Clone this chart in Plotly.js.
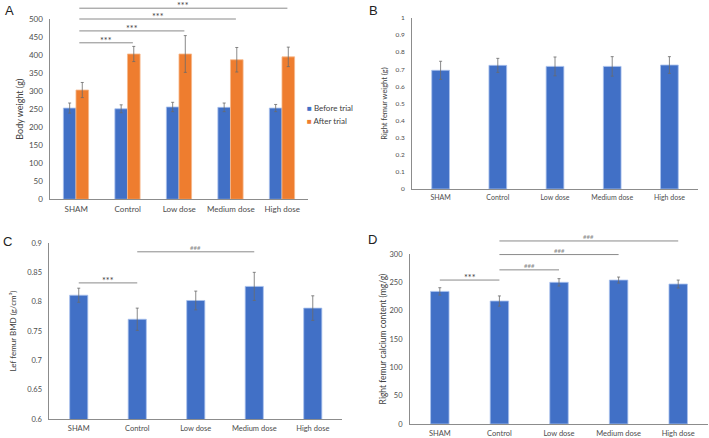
<!DOCTYPE html>
<html>
<head>
<meta charset="utf-8">
<script src="https://cdn.plot.ly/plotly-3.0.1.min.js"></script>
<style>
  html, body { margin: 0; padding: 0; background: #fff; }
  #chart { width: 709px; height: 438px; }
</style>
</head>
<body>
<div id="chart"></div>
<script>
// Treatment groups shared by all four panels
const groups = ['SHAM', 'Control', 'Low dose', 'Medium dose', 'High dose'];

// A: body weight (g)
const seriesNames = ['Before trial', 'After trial'];
const bodyBefore = [253, 251, 256, 255, 253];
const bodyBeforeErr = [14, 11, 13, 12, 10];
const bodyAfter = [303, 403, 403, 387, 395];
const bodyAfterErr = [21, 21, 51, 34, 27];

// B: right femur weight (g)
const femurWeight = [0.694, 0.723, 0.717, 0.717, 0.725];
const femurWeightErr = [0.053, 0.041, 0.055, 0.057, 0.049];

// C: left femur BMD (g/cm3)
const femurBMD = [0.811, 0.770, 0.802, 0.826, 0.789];
const femurBMDErr = [0.012, 0.019, 0.016, 0.024, 0.021];

// D: right femur calcium content (mg/g)
const calcium = [234, 217, 250, 254, 247];
const calciumErr = [6.5, 9, 6.5, 5.3, 7];

// Significance brackets: [from group, to group, level, mark]
const bracketsA = [[0, 1, 434, '***'], [0, 2, 467, '***'], [0, 3, 500, '***'], [0, 4, 530, '***']];
const bracketsC = [[0, 1, 0.832, '***'], [1, 3, 0.885, '###']];
const bracketsD = [[0, 1, 254, '***'], [1, 2, 272, '###'], [1, 3, 299, '###'], [1, 4, 323, '###']];

// Axis ranges and tick steps
const rangeA = [0, 500], dtickA = 50;
const rangeB = [0, 1], dtickB = 0.1;
const rangeC = [0.6, 0.9], dtickC = 0.05;
const rangeD = [0, 300], dtickD = 50;

const BLUE = '#4170c6';
const ORANGE = '#ee7d2f';
const TICK = '#4d4d4d';
const LINE = '#8c8c8c';
const FONT = 'Lato, "Open Sans", sans-serif';

function errBars(arr) {
  return { type: 'data', array: arr, visible: true, color: '#6b6b6b', thickness: 0.8, width: 1.5 };
}
const blueMarker = { color: BLUE, line: { color: '#a9c2ee', width: 0.8 } };

const traces = [
  { type: 'bar', name: seriesNames[0], x: groups, y: bodyBefore, error_y: errBars(bodyBeforeErr),
    xaxis: 'x', yaxis: 'y', width: 0.245, offset: -0.25, marker: blueMarker },
  { type: 'bar', name: seriesNames[1], x: groups, y: bodyAfter, error_y: errBars(bodyAfterErr),
    xaxis: 'x', yaxis: 'y', width: 0.245, offset: -0.005,
    marker: { color: ORANGE, line: { color: '#f6b98c', width: 0.8 } } },
  { type: 'bar', x: groups, y: femurWeight, error_y: errBars(femurWeightErr),
    xaxis: 'x2', yaxis: 'y2', width: 0.31, offset: -0.155, marker: blueMarker },
  { type: 'bar', x: groups, y: femurBMD, error_y: errBars(femurBMDErr),
    xaxis: 'x3', yaxis: 'y3', width: 0.31, offset: -0.155, marker: blueMarker },
  { type: 'bar', x: groups, y: calcium, error_y: errBars(calciumErr),
    xaxis: 'x4', yaxis: 'y4', width: 0.31, offset: -0.155, marker: blueMarker }
];

function xAxis(domain, anchor, size) {
  return {
    domain: domain, anchor: anchor, type: 'category', categoryorder: 'array', categoryarray: groups,
    range: [-0.5, groups.length - 0.5],
    showline: true, linecolor: LINE, linewidth: 1, ticks: '', showgrid: false, zeroline: false,
    tickfont: { family: FONT, size: size, color: TICK }, ticklabelstandoff: 2
  };
}
function yAxis(domain, anchor, range, dtick, size, title, titleSize, standoff) {
  return {
    domain: domain, anchor: anchor, range: range, dtick: dtick, tick0: range[0],
    showline: true, linecolor: LINE, linewidth: 1, ticks: '', showgrid: false, zeroline: false,
    tickfont: { family: FONT, size: size, color: TICK }, ticklabelstandoff: 5,
    title: { text: title, font: { family: FONT, size: titleSize, color: '#404040' }, standoff: standoff }
  };
}

const layout = {
  width: 709, height: 438,
  margin: { l: 0, r: 0, t: 0, b: 0 },
  paper_bgcolor: '#ffffff', plot_bgcolor: '#ffffff',
  barmode: 'overlay',
  showlegend: false,
  font: { family: FONT, color: TICK },
  xaxis: xAxis([0.0712, 0.4344], 'y', 8),
  yaxis: yAxis([0.5450, 0.9566], 'x', rangeA, dtickA, 8, 'Body weight (g)', 9, 3),
  xaxis2: xAxis([0.5811, 0.9845], 'y2', 7),
  yaxis2: yAxis([0.5685, 0.9589], 'x2', rangeB, dtickB, 6.5, 'Right femur weight (g)', 7.5, 6),
  xaxis3: xAxis([0.0698, 0.4824], 'y3', 7.5),
  yaxis3: yAxis([0.0434, 0.4452], 'x3', rangeC, dtickC, 7.5, 'Lef femur BMD (g/cm³)', 8, 9),
  xaxis4: xAxis([0.5783, 0.9986], 'y4', 7.5),
  yaxis4: yAxis([0.0320, 0.4201], 'x4', rangeD, dtickD, 7.5, 'Right femur calcium content (mg/g)', 8.5, 1),
  shapes: [],
  annotations: []
};

// Brackets are placed in the y-domain frame so they may rise above the axis top
function addBrackets(list, xa, ya, range, startShift, endShift, starSize, hashSize) {
  list.forEach(([from, to, level, mark]) => {
    const frac = (level - range[0]) / (range[1] - range[0]);
    const x0 = from + startShift, x1 = to + endShift;
    layout.shapes.push({
      type: 'line', xref: xa, yref: ya + ' domain', x0: x0, x1: x1, y0: frac, y1: frac,
      line: { color: '#8a8a8a', width: 1 }
    });
    const isStar = mark === '***';
    layout.annotations.push({
      xref: xa, yref: ya + ' domain', x: (x0 + x1) / 2, y: frac, yanchor: 'bottom',
      text: mark, showarrow: false, borderpad: 0, yshift: isStar ? -4 : 0,
      font: { family: FONT, size: isStar ? starSize : hashSize, color: isStar ? '#404040' : '#8a8a8a' }
    });
  });
}
addBrackets(bracketsA, 'x', 'y', rangeA, 0.06, 0.1, 9, 6);
addBrackets(bracketsC, 'x3', 'y3', rangeC, 0, 0, 9, 6);
addBrackets(bracketsD, 'x4', 'y4', rangeD, 0, 0, 9, 6);

// Panel letters
[['A', 0.004, 0.998], ['B', 0.517, 0.998], ['C', 0.001, 0.470], ['D', 0.516, 0.475]].forEach(([t, x, y]) => {
  layout.annotations.push({ xref: 'paper', yref: 'paper', x: x, y: y, xanchor: 'left', yanchor: 'top',
    text: t, showarrow: false, font: { family: 'Liberation Sans, Arial, sans-serif', size: 13, color: '#222' } });
});

// Legend for panel A
[[seriesNames[0], BLUE, 0.753], [seriesNames[1], ORANGE, 0.724]].forEach(([name, color, y]) => {
  layout.annotations.push({ xref: 'paper', yref: 'paper', x: 0.4295, y: y, xanchor: 'left', yanchor: 'middle',
    text: '<span style="color:' + color + '">■</span> ' + name, showarrow: false,
    font: { family: FONT, size: 8, color: '#404040' } });
});

Plotly.newPlot('chart', traces, layout, { displayModeBar: false, staticPlot: true });
</script>
</body>
</html>
